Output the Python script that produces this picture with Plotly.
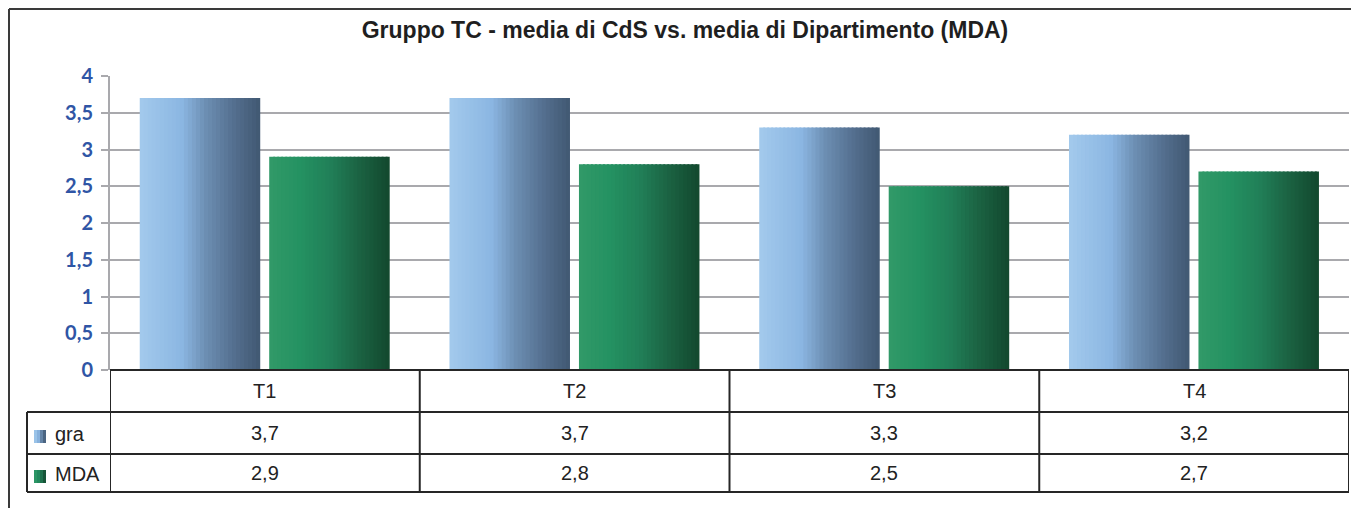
import plotly.graph_objects as go

# ---- data ----
categories = ["T1", "T2", "T3", "T4"]
series_names = ["gra", "MDA"]
gra_values = [3.7, 3.7, 3.3, 3.2]
mda_values = [2.9, 2.8, 2.5, 2.7]
title_text = "Gruppo TC - media di CdS vs. media di Dipartimento (MDA)"

# ---- style ----
W, H = 1351, 508
ML = 110
MR = W - 1349
MT = 76
MB = H - 370
PW, PH = W - ML - MR, H - MT - MB

def px(X):  # pixel x -> paper
    return (X - ML) / PW

def py(Y):  # pixel y -> paper
    return (MT + PH - Y) / PH

blue_stops = [(0.0, (163, 202, 236)), (0.35, (139, 182, 226)), (0.55, (108, 142, 178)),
              (0.78, (84, 111, 143)), (1.0, (64, 88, 114))]
green_stops = [(0.0, (50, 153, 104)), (0.25, (36, 146, 98)), (0.5, (33, 128, 88)),
               (0.75, (27, 98, 66)), (1.0, (18, 72, 46))]

def grad(stops, t):
    for (p0, c0), (p1, c1) in zip(stops[:-1], stops[1:]):
        if p0 <= t <= p1:
            f = (t - p0) / (p1 - p0) if p1 > p0 else 0
            c = [round(a + (b - a) * f) for a, b in zip(c0, c1)]
            return "rgb(%d,%d,%d)" % tuple(c)
    return "rgb(%d,%d,%d)" % stops[-1][1]

N = 30
bar_w = 0.389
series = [
    (gra_values, blue_stops, -0.404),
    (mda_values, green_stops, 0.014),
]

fig = go.Figure()
for (vals, stops, start), name in zip(series, series_names):
    sw = bar_w / N
    for i in range(N):
        t = (i + 0.5) / N
        extra = 0.006 if i < N - 1 else 0.0
        fig.add_trace(go.Bar(
            x=categories, y=vals, name=name,
            offset=start + i * sw, width=sw + extra,
            marker=dict(color=grad(stops, t), line=dict(width=0)),
            showlegend=False, hoverinfo="skip" if i else "x+y+name",
        ))

fig.update_layout(
    width=W, height=H,
    margin=dict(l=ML, r=MR, t=MT, b=MB, pad=0),
    paper_bgcolor="white", plot_bgcolor="white",
    barmode="overlay",
    separators=",.",
    title=dict(text="<b>" + title_text + "</b>", x=685 / W, xref="container",
               xanchor="center", y=1 - 30 / H, yref="container", yanchor="middle",
               font=dict(family="Liberation Sans, Arial", size=23, color="#1f1f1f")),
    xaxis=dict(range=[-0.5, 3.5], showticklabels=False, showgrid=False, zeroline=False,
               showline=False, ticks=""),
    yaxis=dict(range=[0, 4], dtick=0.5, tick0=0, showgrid=True, gridcolor="#a9a9ad", gridwidth=2,
               zeroline=False, showline=True, linecolor="#a9a9ad", linewidth=2,
               ticks="outside", ticklen=7, tickwidth=2, tickcolor="#a9a9ad",
               tickfont=dict(family="Lato, Open Sans, sans-serif", size=20, color="#2f55a5",
                             weight="bold"),
               ticklabelstandoff=4),
)

shapes = []
LC = "#262626"
LW = 2
# outer chart border (left and top)
shapes.append(dict(type="line", xref="paper", yref="paper", x0=px(9), x1=px(1400),
                   y0=py(9), y1=py(9), line=dict(color="#3a3a3a", width=2)))
shapes.append(dict(type="line", xref="paper", yref="paper", x0=px(9), x1=px(9),
                   y0=py(9), y1=py(560), line=dict(color="#3a3a3a", width=2)))

# table rows (pixel y of horizontal lines)
y_top, y_r1, y_r2, y_bot = 370, 412, 454, 492
x_left = 27
shapes.append(dict(type="line", xref="paper", yref="paper", x0=0, x1=1,
                   y0=py(y_top), y1=py(y_top), line=dict(color=LC, width=LW)))
for yy in (y_r1, y_r2, y_bot):
    shapes.append(dict(type="line", xref="paper", yref="paper", x0=px(x_left), x1=1,
                       y0=py(yy), y1=py(yy), line=dict(color=LC, width=LW)))
# vertical separators at category boundaries
for k in range(len(categories) + 1):
    shapes.append(dict(type="line", xref="x", yref="paper", x0=k - 0.5, x1=k - 0.5,
                       y0=py(y_top), y1=py(y_bot), line=dict(color=LC, width=LW)))
shapes.append(dict(type="line", xref="paper", yref="paper", x0=px(x_left), x1=px(x_left),
                   y0=py(y_r1), y1=py(y_bot), line=dict(color=LC, width=LW)))

# legend keys (small gradient squares)
for (vals, stops, start), ky in zip(series, [(430, 443), (470, 483)]):
    kx0, kx1 = 34, 46
    M = 4
    for i in range(M):
        shapes.append(dict(type="rect", xref="paper", yref="paper",
                           x0=px(kx0 + (kx1 - kx0) * i / M), x1=px(kx0 + (kx1 - kx0) * (i + 1) / M),
                           y0=py(ky[1]), y1=py(ky[0]), line=dict(width=0),
                           fillcolor=grad(stops, (i + 0.5) / M)))

fig.update_layout(shapes=shapes)

annots = []
tfont = dict(family="Liberation Sans, Arial", size=20, color="#222222")

def fmt(v):
    return ("%.1f" % v).replace(".", ",")

for c in categories:
    annots.append(dict(x=c, xref="x", y=py((y_top + y_r1) / 2), yref="paper", text=c,
                       showarrow=False, font=tfont, xanchor="center", yanchor="middle"))
for vals, (ya, yb) in zip([gra_values, mda_values], [(y_r1, y_r2), (y_r2, y_bot)]):
    for c, v in zip(categories, vals):
        annots.append(dict(x=c, xref="x", y=py((ya + yb) / 2), yref="paper", text=fmt(v),
                           showarrow=False, font=tfont, xanchor="center", yanchor="middle"))
for name, (ya, yb) in zip(series_names, [(y_r1, y_r2), (y_r2, y_bot)]):
    annots.append(dict(x=px(53), xref="paper", y=py((ya + yb) / 2 + 1), yref="paper", text=name,
                       showarrow=False, font=tfont, xanchor="left", yanchor="middle"))
fig.update_layout(annotations=annots)

fig.write_html("out.html", config={"displayModeBar": False},
               post_script="document.body.style.margin='0';document.body.style.overflow='hidden';")
